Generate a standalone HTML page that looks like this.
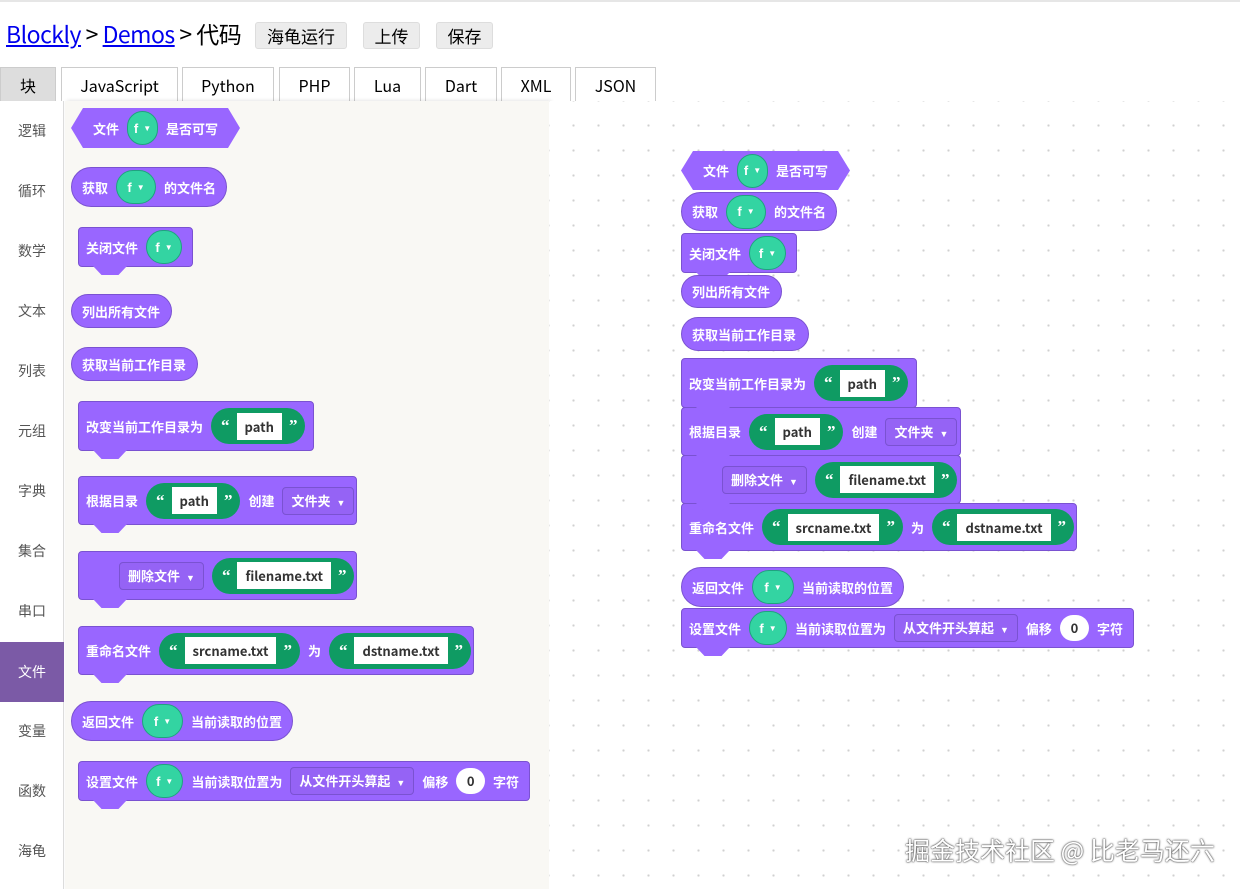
<!DOCTYPE html>
<html><head><meta charset="utf-8">
<style>
*{box-sizing:border-box;margin:0;padding:0}
body{width:1240px;height:889px;overflow:hidden;background:#fff;font-family:"Noto Sans CJK SC",sans-serif;position:relative}
.topline{position:absolute;left:0;top:0;width:1240px;height:2px;background:#e6e6e6}
.hdr{position:absolute;left:6px;top:16px;font-size:23px;color:#000;font-family:"Noto Sans CJK SC",sans-serif;letter-spacing:-0.5px}
.hdr a{color:#00e;text-decoration:underline}
.btn{position:absolute;top:22px;height:27px;background:#ececec;border:1px solid #ddd;border-radius:3px;font-size:17px;text-align:center;line-height:25px;color:#000}
.tab{position:absolute;top:67px;height:35px;border:1px solid #ccc;border-bottom:none;background:#fff;font-size:16px;text-align:center;line-height:34px;color:#000}
.side{position:absolute;left:0;top:101px;width:64px;height:788px;background:#fff;border-right:1px solid #ddd}
.cat{position:absolute;left:0;width:64px;height:60px;font-size:14px;color:#555;text-align:center;line-height:60px}
.fly{position:absolute;left:65px;top:101px;width:484px;height:788px;background:#f9f8f4;box-shadow:2px 0 4px rgba(0,0,0,.15)}
.ws{position:absolute;left:549px;top:101px;width:691px;height:788px;background-color:#fff;background-image:radial-gradient(circle,#d0d0d0 1px,transparent 1.3px);background-size:25px 25px;background-position:12px 12px}
.b{position:absolute;background:#9966ff;border:1px solid #7a52d1;color:#fff;font-weight:bold;font-size:13px;display:flex;align-items:center;gap:8px;padding:0 10px;white-space:nowrap}
.r{border-radius:20px}
.s{border-radius:4px}
.s::after{content:"";position:absolute;left:14px;bottom:-9px;width:34px;height:9px;background:#9966ff;clip-path:polygon(0 0,100% 0,75% 100%,25% 100%)}
.hex{clip-path:polygon(12px 0,calc(100% - 12px) 0,100% 50%,calc(100% - 12px) 100%,12px 100%,0 50%);border:none;padding:0 22px}
.v{background:#33d4a2;border:1px solid #1fa37f;border-radius:17px;height:34px;width:44px;display:flex;align-items:center;justify-content:center;gap:5px;font-size:13px;font-family:"Liberation Sans",sans-serif}
.v i{font-style:normal;font-size:8px}
.str{background:#0f9b63;border-radius:18px;height:36px;display:flex;align-items:center;gap:7px;padding:0 8px 0 10px;font-size:17px;font-family:"Liberation Serif",serif}
.str span{background:#fff;color:#333;font-size:13px;height:27px;line-height:27px;padding:0 8px;font-family:"Noto Sans CJK SC",sans-serif}
.dd{border:1px solid #7a52d1;border-radius:4px;height:28px;line-height:26px;padding:0 8px;background:#9563f5}
.dd i{font-style:normal;font-size:9px;font-family:"Liberation Sans",sans-serif;margin-left:6px}
.num{background:#fff;color:#333;border-radius:14px;height:26px;width:34px;text-align:center;line-height:26px}
.wm{position:absolute;left:905px;top:832px;font-size:25px;color:#fff;text-shadow:0 0 2px #333,0 0 1px #333;white-space:nowrap}
</style></head><body>
<div class="topline"></div>
<div class="hdr"><a>Blockly</a> &gt; <a>Demos</a> &gt; 代码</div>
<div class="btn" style="left:255px;width:92px">海龟运行</div>
<div class="btn" style="left:363px;width:57px">上传</div>
<div class="btn" style="left:436px;width:57px">保存</div>
<div class="tab" style="left:0;width:56px;background:#ddd">块</div>
<div class="tab" style="left:61px;width:117px">JavaScript</div>
<div class="tab" style="left:182px;width:92px">Python</div>
<div class="tab" style="left:279px;width:71px">PHP</div>
<div class="tab" style="left:354px;width:67px">Lua</div>
<div class="tab" style="left:425px;width:72px">Dart</div>
<div class="tab" style="left:501px;width:70px">XML</div>
<div class="tab" style="left:575px;width:81px">JSON</div>

<div class="side">
<div class="cat" style="top:0">逻辑</div>
<div class="cat" style="top:60px">循环</div>
<div class="cat" style="top:120px">数学</div>
<div class="cat" style="top:180px">文本</div>
<div class="cat" style="top:240px">列表</div>
<div class="cat" style="top:300px">元组</div>
<div class="cat" style="top:360px">字典</div>
<div class="cat" style="top:420px">集合</div>
<div class="cat" style="top:480px">串口</div>
<div class="cat" style="top:541px;background:#7b5aa6;color:#fff">文件</div>
<div class="cat" style="top:600px">变量</div>
<div class="cat" style="top:660px">函数</div>
<div class="cat" style="top:720px">海龟</div>
</div>
<div class="fly"></div>
<div class="ws"></div>

<!-- flyout blocks -->
<div class="b hex" style="left:71px;top:108px;width:169px;height:40px">文件<div class="v">f<i>▼</i></div>是否可写</div>
<div class="b r" style="left:71px;top:167px;width:156px;height:40px">获取<div class="v">f<i>▼</i></div>的文件名</div>
<div class="b s" style="left:78px;top:227px;width:115px;height:40px;padding-left:7px">关闭文件<div class="v">f<i>▼</i></div></div>
<div class="b r" style="left:71px;top:294px;width:101px;height:34px">列出所有文件</div>
<div class="b r" style="left:71px;top:347px;width:127px;height:34px">获取当前工作目录</div>
<div class="b s" style="left:78px;top:401px;width:236px;height:50px;padding-left:7px">改变当前工作目录为<div class="str">“<span>path</span>”</div></div>
<div class="b s" style="left:78px;top:476px;width:279px;height:49px;padding-left:7px">根据目录<div class="str">“<span>path</span>”</div>创建<div class="dd">文件夹<i>▼</i></div></div>
<div class="b s" style="left:78px;top:551px;width:279px;height:49px;padding-left:40px"><div class="dd">删除文件<i>▼</i></div><div class="str">“<span>filename.txt</span>”</div></div>
<div class="b s" style="left:78px;top:626px;width:396px;height:49px;padding-left:7px">重命名文件<div class="str">“<span>srcname.txt</span>”</div>为<div class="str">“<span>dstname.txt</span>”</div></div>
<div class="b r" style="left:71px;top:701px;width:222px;height:40px">返回文件<div class="v">f<i>▼</i></div>当前读取的位置</div>
<div class="b s" style="left:78px;top:761px;width:452px;height:40px;padding-left:7px">设置文件<div class="v">f<i>▼</i></div>当前读取位置为<div class="dd">从文件开头算起<i>▼</i></div>偏移<div class="num">0</div>字符</div>

<!-- workspace blocks -->
<div class="b hex" style="left:681px;top:151px;width:169px;height:39px">文件<div class="v">f<i>▼</i></div>是否可写</div>
<div class="b r" style="left:681px;top:192px;width:156px;height:39px">获取<div class="v">f<i>▼</i></div>的文件名</div>
<div class="b s" style="left:681px;top:233px;width:116px;height:40px;padding-left:7px">关闭文件<div class="v">f<i>▼</i></div></div>
<div class="b r" style="left:681px;top:275px;width:101px;height:33px">列出所有文件</div>
<div class="b r" style="left:681px;top:317px;width:128px;height:34px">获取当前工作目录</div>
<div class="b s" style="left:681px;top:503px;width:396px;height:48px;padding-left:7px">重命名文件<div class="str">“<span>srcname.txt</span>”</div>为<div class="str">“<span>dstname.txt</span>”</div></div>
<div class="b s" style="left:681px;top:455px;width:280px;height:49px;padding-left:40px"><div class="dd">删除文件<i>▼</i></div><div class="str">“<span>filename.txt</span>”</div></div>
<div class="b s" style="left:681px;top:407px;width:280px;height:49px;padding-left:7px">根据目录<div class="str">“<span>path</span>”</div>创建<div class="dd">文件夹<i>▼</i></div></div>
<div class="b s" style="left:681px;top:358px;width:236px;height:50px;padding-left:7px">改变当前工作目录为<div class="str">“<span>path</span>”</div></div>
<div class="b s" style="left:681px;top:608px;width:453px;height:40px;padding-left:7px">设置文件<div class="v">f<i>▼</i></div>当前读取位置为<div class="dd">从文件开头算起<i>▼</i></div>偏移<div class="num">0</div>字符</div>
<div class="b r" style="left:681px;top:567px;width:223px;height:40px">返回文件<div class="v">f<i>▼</i></div>当前读取的位置</div>

<div class="wm">掘金技术社区 @ 比老马还六</div>
</body></html>
